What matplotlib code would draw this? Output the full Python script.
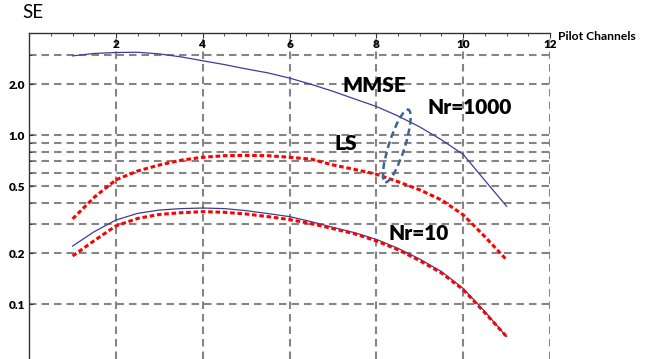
import numpy as np
import matplotlib
matplotlib.use('Agg')
import matplotlib.pyplot as plt
from matplotlib.patches import Ellipse
from matplotlib.transforms import ScaledTranslation
from matplotlib.ticker import FixedLocator, NullFormatter

plt.rcParams['font.family'] = ['Lato', 'DejaVu Sans']

# pilot channels (x) and spectral efficiency (SE)
x = [1, 1.5, 2, 2.5, 3, 3.5, 4, 4.5, 5, 5.5, 6, 6.5, 7, 7.5, 8, 8.5, 9, 9.5,
     10, 10.5, 11]
mmse_1000 = [2.95, 3.05, 3.09, 3.10, 3.03, 2.91, 2.76, 2.62, 2.47, 2.34, 2.18,
             2.00, 1.82, 1.64, 1.48, 1.30, 1.12, 0.94, 0.77, 0.54, 0.38]
ls_1000 = [0.32, 0.43, 0.545, 0.615, 0.667, 0.712, 0.741, 0.757, 0.760,
           0.757, 0.741, 0.722, 0.667, 0.628, 0.588, 0.531, 0.475, 0.414,
           0.338, 0.251, 0.183]
mmse_10 = [0.221, 0.269, 0.315, 0.345, 0.361, 0.368, 0.371, 0.368, 0.358,
           0.344, 0.330, 0.308, 0.285, 0.265, 0.242, 0.214, 0.185, 0.156,
           0.124, 0.0904, 0.0643]
ls_10 = [0.193, 0.238, 0.291, 0.322, 0.340, 0.348, 0.353, 0.350, 0.342,
         0.330, 0.317, 0.300, 0.280, 0.261, 0.237, 0.210, 0.181, 0.153,
         0.122, 0.089, 0.0643]

x_ticks = [2, 4, 6, 8, 10, 12]
y_ticks = [0.1, 0.2, 0.5, 1.0, 2.0]
y_ticklabels = ['0.1', '0.2', '0.5', '1.0', '2.0']
y_grid_minor = [0.3, 0.4, 0.6, 0.7, 0.8, 0.9, 3.0]

W, H = 666, 359
fig = plt.figure(figsize=(W / 100, H / 100), dpi=100)
ax = fig.add_axes([29.2 / W, 0, (550 - 29.2) / W, (H - 33) / H])

blue = '#3d3d99'
red = '#ff0000'
ax.plot(x, mmse_1000, color=blue, lw=0.9, zorder=3)
ax.plot(x, mmse_10, color=blue, lw=0.9, zorder=3)
ax.plot(x, ls_1000, color=red, lw=2.2, ls=(0, (1.5, 0.9)), zorder=3)
ax.plot(x, ls_10, color=red, lw=2.2, ls=(0, (1.5, 0.9)), zorder=3)

ax.set_yscale('log')
ax.set_xlim(0, 12)
ax.set_ylim(0.0474, 4.03)

ax.xaxis.set_major_locator(FixedLocator(x_ticks))
ax.xaxis.set_minor_locator(FixedLocator(np.arange(0.5, 12, 0.5)))
ax.yaxis.set_major_locator(FixedLocator(y_ticks))
ax.yaxis.set_minor_locator(FixedLocator(y_grid_minor))
ax.set_yticklabels(y_ticklabels)
ax.yaxis.set_minor_formatter(NullFormatter())

grid_kw = dict(color='#858585', lw=1.5, ls=(0, (3.6, 2.4)))
ax.grid(True, which='major', **grid_kw)
ax.grid(True, which='minor', axis='y', **grid_kw)
ax.set_axisbelow(True)

for side in ['right', 'bottom']:
    ax.spines[side].set_visible(False)
for side in ['top', 'left']:
    ax.spines[side].set_color('#333333')
    ax.spines[side].set_linewidth(1.0)

ax.tick_params(axis='x', which='both', top=True, bottom=False,
               labeltop=True, labelbottom=False, direction='in',
               color='#333333')
ax.tick_params(axis='x', which='major', length=3.5, pad=-12.5,
               labelsize=8.5)
ax.tick_params(axis='x', which='minor', length=2)
ax.tick_params(axis='y', which='both', direction='in', color='#333333')
ax.tick_params(axis='y', which='major', length=3, pad=3, labelsize=8.5)
ax.tick_params(axis='y', which='minor', length=2)
for lab in ax.get_xticklabels() + ax.get_yticklabels():
    lab.set_fontweight('heavy')

# dashed ellipse around the Nr=1000 pair
trans = fig.dpi_scale_trans + ScaledTranslation(8.47, 0.865, ax.transData)
ell = Ellipse((0, 0), 0.16, 0.76, angle=-17.7, transform=trans,
              fill=False, ec='#3b6594', lw=1.8, ls=(0, (2.7, 1.6)), zorder=4)
ax.add_patch(ell)

txt_kw = dict(fontsize=15, fontweight='heavy', ha='center', va='center',
              zorder=5)
ax.text(7.96, 1.98, 'MMSE', **txt_kw)
ax.text(10.14, 1.456, 'Nr=1000', **txt_kw)
ax.text(7.30, 0.888, 'LS', **txt_kw)
ax.text(8.97, 0.263, 'Nr=10', **txt_kw)

fig.text(33 / W, 1 - 12 / H, 'SE', fontsize=13.5, ha='center', va='center')
fig.text(558 / W, 1 - 36.5 / H, 'Pilot Channels', fontsize=8.7,
         fontweight='bold', ha='left', va='center')

fig.savefig('out.png', dpi=100)
